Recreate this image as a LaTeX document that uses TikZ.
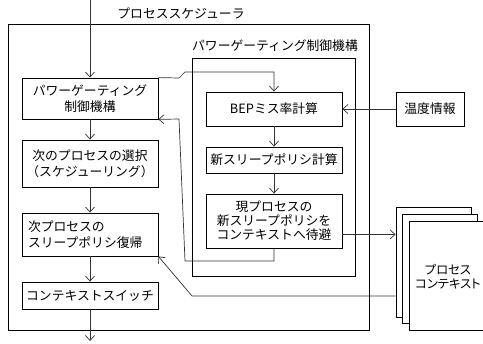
\documentclass[tikz,border=0pt]{standalone}
\usepackage{fontspec}
\setmainfont{Noto Sans CJK JP}
\newfontfamily\palfont{Noto Sans CJK JP}[RawFeature=+palt]
\usetikzlibrary{arrows.meta,calc}
\begin{document}
\begin{tikzpicture}[x=1pt,y=-1pt,
  frame/.style={draw=black,line width=0.8pt,inner sep=0pt},
  box/.style={draw=black,line width=0.8pt,fill=white,inner sep=0pt,align=center,font=\fontsize{12.8}{15.5}\selectfont},
  lbl/.style={inner sep=0pt,font=\fontsize{12.8}{15}\selectfont},
  conn/.style={draw=black!80,line width=0.7pt,-{Straight Barb[length=5pt,width=9pt,line width=0.7pt]}},
  line/.style={draw=black!80,line width=0.7pt}]
\useasboundingbox (0,0) rectangle (483,344);
% containers
\node[frame,minimum width=361pt,minimum height=306pt] (outer) at (188.5,177) {};
\node[lbl] (outerlbl) at (181,13) {プロセススケジューラ};
\node[frame,minimum width=163pt,minimum height=218pt] (inner) at (273.5,167) {};
\node[lbl] (innerlbl) at (275,46) {パワーゲーティング制御機構};
% left column
\node[box,minimum width=136pt,minimum height=41pt,font=\fontsize{12.8}{16.5}\selectfont] (b1) at (90,98.5) {パワーゲーティング\\制御機構};
\node[box,minimum width=136pt,minimum height=47pt] (b2) at (90,163.5) {次のプロセスの選択\\（スケジューリング）};
\node[box,text width=124pt,inner xsep=6pt,align=left,minimum height=43pt] (b3) at (90,234.5) {次プロセスの\\スリープポリシ復帰};
\node[box,minimum width=136pt,minimum height=27pt] (b4) at (90,295.5) {コンテキストスイッチ};
% right column
\node[box,minimum width=136pt,minimum height=34pt] (r1) at (274,109) {BEPミス率計算};
\node[box,minimum width=136pt,minimum height=26pt] (r2) at (274,160) {新スリープポリシ計算};
\node[box,minimum width=136pt,minimum height=54pt,font=\fontsize{12.8}{14}\selectfont] (r3) at (274,221) {現プロセスの\\新スリープポリシを\\コンテキストへ待避};
\node[box,minimum width=68pt,minimum height=34pt] (temp) at (430,109) {温度情報};
% process contexts
\node[box,minimum width=75pt,minimum height=110pt] (c1) at (433.5,262) {};
\node[box,minimum width=75pt,minimum height=109pt] (c2) at (439.5,268.5) {};
\node[box,minimum width=76pt,minimum height=109pt] (c3) at (447,275.5) {};
\node[inner sep=0pt,align=center,font=\palfont\fontsize{12.3}{13.5}\selectfont] (c3text) at (448,276.5) {プロセス\\コンテキスト};
% coordinates
\coordinate (top) at (90,0);
\coordinate (bot) at (90,341);
\coordinate (save) at ($(r3.south east)+(0,-14)$);
\coordinate (ctxout) at (c1.west |- 0,296);
% connectors
\draw[conn] (top) -- (b1.north);
\draw[conn] (b1) -- (b2);
\draw[conn] (b2) -- (b3);
\draw[conn] (b3) -- (b4);
\draw[conn] (b4) -- (bot);
\draw[conn] (r1) -- (r2);
\draw[conn] (r2) -- (r3);
\draw[conn] (temp) -- (r1);
\draw[conn] (b1.north east) -- (179,78) -- (185,72) -- (r1.north |- 0,72) -- (r1.north);
\draw[conn] (r3.south) -- (274,261) -- (185,261) -- (179,119) -- (b1.south east);
\draw[conn] (save) -- (save -| c1.west);
\draw[conn] (ctxout) -- (192,296) -- (b3.south east);
\end{tikzpicture}
\end{document}
